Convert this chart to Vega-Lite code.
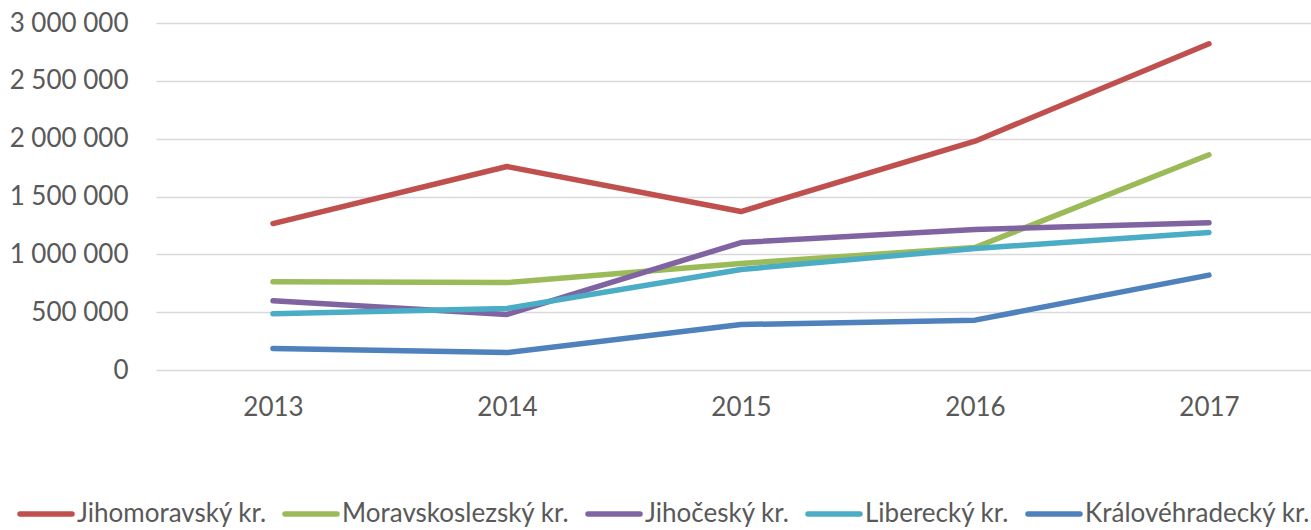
{
  "$schema": "https://vega.github.io/schema/vega-lite/v6.json",
  "width": 1155,
  "height": 347,
  "autosize": {"type": "none"},
  "padding": {"left": 156, "top": 23, "right": 0, "bottom": 160},
  "background": "white",
  "config": {
    "view": {"stroke": null},
    "font": "Lato",
    "axis": {"labelFont": "Lato", "labelColor": "#595959", "labelFontSize": 26, "title": null}
  },
  "data": {
    "values": [
      {"year": 2013, "region": "Jihomoravský kr.", "value": 1266000},
      {"year": 2014, "region": "Jihomoravský kr.", "value": 1759000},
      {"year": 2015, "region": "Jihomoravský kr.", "value": 1370000},
      {"year": 2016, "region": "Jihomoravský kr.", "value": 1978000},
      {"year": 2017, "region": "Jihomoravský kr.", "value": 2820000},
      {"year": 2013, "region": "Moravskoslezský kr.", "value": 763000},
      {"year": 2014, "region": "Moravskoslezský kr.", "value": 756000},
      {"year": 2015, "region": "Moravskoslezský kr.", "value": 921000},
      {"year": 2016, "region": "Moravskoslezský kr.", "value": 1059000},
      {"year": 2017, "region": "Moravskoslezský kr.", "value": 1861000},
      {"year": 2013, "region": "Jihočeský kr.", "value": 598000},
      {"year": 2014, "region": "Jihočeský kr.", "value": 480000},
      {"year": 2015, "region": "Jihočeský kr.", "value": 1102000},
      {"year": 2016, "region": "Jihočeský kr.", "value": 1215000},
      {"year": 2017, "region": "Jihočeský kr.", "value": 1273000},
      {"year": 2013, "region": "Liberecký kr.", "value": 486000},
      {"year": 2014, "region": "Liberecký kr.", "value": 532000},
      {"year": 2015, "region": "Liberecký kr.", "value": 869000},
      {"year": 2016, "region": "Liberecký kr.", "value": 1050000},
      {"year": 2017, "region": "Liberecký kr.", "value": 1189000},
      {"year": 2013, "region": "Královéhradecký kr.", "value": 186000},
      {"year": 2014, "region": "Královéhradecký kr.", "value": 151000},
      {"year": 2015, "region": "Královéhradecký kr.", "value": 393000},
      {"year": 2016, "region": "Královéhradecký kr.", "value": 431000},
      {"year": 2017, "region": "Královéhradecký kr.", "value": 820000}
    ]
  },
  "mark": {"type": "line", "strokeWidth": 5.5, "strokeCap": "round", "strokeJoin": "round"},
  "encoding": {
    "x": {
      "field": "year", "type": "quantitative",
      "scale": {"domain": [2012.5, 2017.436], "nice": false, "zero": false},
      "axis": {"values": [2013, 2014, 2015, 2016, 2017], "format": "d", "grid": false, "domain": false, "ticks": false, "labelPadding": 24, "labelFlush": false}
    },
    "y": {
      "field": "value", "type": "quantitative",
      "scale": {"domain": [0, 3000000], "nice": false},
      "axis": {
        "values": [0, 500000, 1000000, 1500000, 2000000, 2500000, 3000000],
        "labelExpr": "replace(format(datum.value, ','), /,/g, ' ')",
        "grid": true, "gridColor": "#D9D9D9", "gridWidth": 1.3,
        "domain": false, "ticks": false, "labelPadding": 28
      }
    },
    "color": {
      "field": "region", "type": "nominal",
      "scale": {
        "domain": ["Jihomoravský kr.", "Moravskoslezský kr.", "Jihočeský kr.", "Liberecký kr.", "Královéhradecký kr."],
        "range": ["#C0504D", "#9BBB59", "#8064A2", "#4BACC6", "#4F81BD"]
      },
      "legend": {
        "title": null,
        "orient": "none",
        "direction": "horizontal",
        "legendX": -139,
        "legendY": 462,
        "symbolType": "stroke",
        "symbolSize": 2704,
        "symbolStrokeWidth": 5.5,
        "labelFont": "Lato",
        "labelFontSize": 26,
        "labelColor": "#595959",
        "labelOffset": 2,
        "columnPadding": 7,
        "labelLimit": 400,
        "encode": {"symbols": {"update": {"strokeCap": {"value": "round"}}}}
      }
    }
  }
}
